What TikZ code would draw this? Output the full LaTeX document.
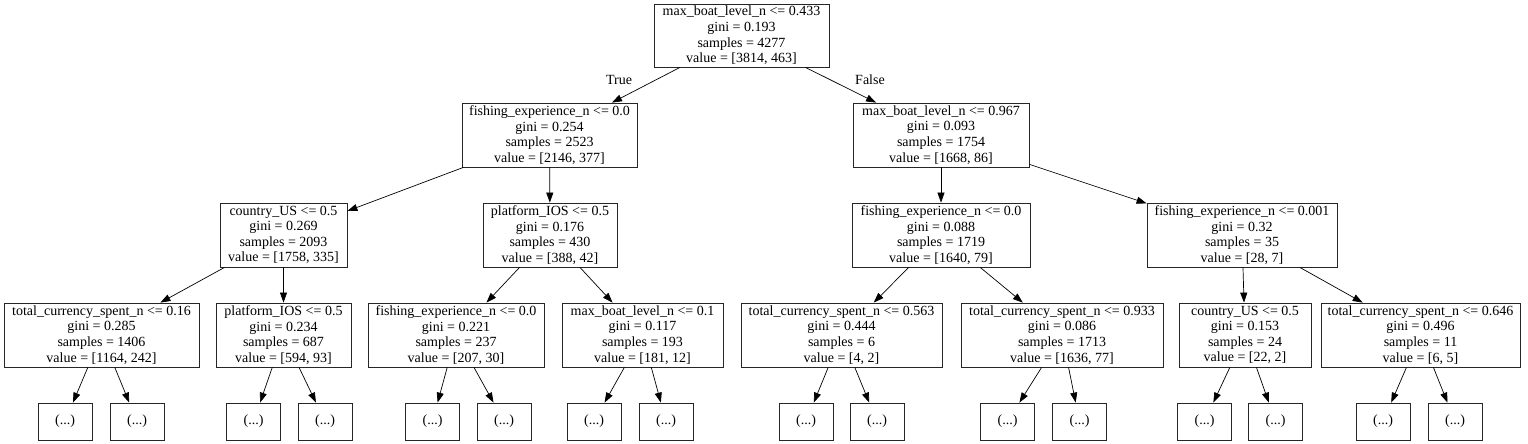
\documentclass[tikz,border=0pt]{standalone}
\usepackage{fontspec}
\setmainfont{Liberation Serif}
\usetikzlibrary{arrows.meta}
\begin{document}
\begin{tikzpicture}[x=1pt,y=-1pt,
  every node/.style={font=\fontsize{14}{15.6}\selectfont},
  split/.style={draw=black!85, line width=0.8pt, rectangle, inner sep=0pt, align=center, minimum height=64pt},
  leaf/.style={draw=black!85, line width=0.8pt, rectangle, inner sep=0pt, minimum width=54pt, minimum height=37pt},
  edge/.style={draw=black, line width=0.7pt, -{Triangle[length=10pt,width=7pt]}},
  elabel/.style={inner sep=0pt}]
\useasboundingbox (0,0) rectangle (1528,444);
% level 0
\node[split, minimum width=175pt, minimum height=63pt] (r) at (741.5,35.5) {max\_boat\_level\_n <= 0.433\\gini = 0.193\\samples = 4277\\value = [3814, 463]};
% level 1
\node[split, minimum width=175pt] (a) at (549.5,135) {fishing\_experience\_n <= 0.0\\gini = 0.254\\samples = 2523\\value = [2146, 377]};
\node[split, minimum width=176pt] (b) at (941,135) {max\_boat\_level\_n <= 0.967\\gini = 0.093\\samples = 1754\\value = [1668, 86]};
% level 2
\node[split, minimum width=127pt] (aa) at (283.5,235) {country\_US <= 0.5\\gini = 0.269\\samples = 2093\\value = [1758, 335]};
\node[split, minimum width=134pt] (ab) at (550,235) {platform\_IOS <= 0.5\\gini = 0.176\\samples = 430\\value = [388, 42]};
\node[split, minimum width=178pt] (ba) at (941,235) {fishing\_experience\_n <= 0.0\\gini = 0.088\\samples = 1719\\value = [1640, 79]};
\node[split, minimum width=190pt] (bb) at (1242,235) {fishing\_experience\_n <= 0.001\\gini = 0.32\\samples = 35\\value = [28, 7]};
% level 3
\node[split, minimum width=195pt] (aaa) at (101.5,335) {total\_currency\_spent\_n <= 0.16\\gini = 0.285\\samples = 1406\\value = [1164, 242]};
\node[split, minimum width=135pt] (aab) at (283.5,335) {platform\_IOS <= 0.5\\gini = 0.234\\samples = 687\\value = [594, 93]};
\node[split, minimum width=176pt] (aba) at (456,335) {fishing\_experience\_n <= 0.0\\gini = 0.221\\samples = 237\\value = [207, 30]};
\node[split, minimum width=161pt] (abb) at (642.5,335) {max\_boat\_level\_n <= 0.1\\gini = 0.117\\samples = 193\\value = [181, 12]};
\node[split, minimum width=201pt] (baa) at (841.5,335) {total\_currency\_spent\_n <= 0.563\\gini = 0.444\\samples = 6\\value = [4, 2]};
\node[split, minimum width=202pt] (bab) at (1062,335) {total\_currency\_spent\_n <= 0.933\\gini = 0.086\\samples = 1713\\value = [1636, 77]};
\node[split, minimum width=132pt] (bba) at (1245,335) {country\_US <= 0.5\\gini = 0.153\\samples = 24\\value = [22, 2]};
\node[split, minimum width=199pt] (bbb) at (1420.5,335) {total\_currency\_spent\_n <= 0.646\\gini = 0.496\\samples = 11\\value = [6, 5]};
% leaves
\node[leaf] (l1) at (65,421.5) {(...)};
\node[leaf] (l2) at (137,421.5) {(...)};
\node[leaf] (l3) at (253.5,421.5) {(...)};
\node[leaf] (l4) at (325,421.5) {(...)};
\node[leaf] (l5) at (432.5,421.5) {(...)};
\node[leaf] (l6) at (504,421.5) {(...)};
\node[leaf] (l7) at (594,421.5) {(...)};
\node[leaf] (l8) at (666,421.5) {(...)};
\node[leaf] (l9) at (806,421.5) {(...)};
\node[leaf] (l10) at (877,421.5) {(...)};
\node[leaf] (l11) at (1007.5,421.5) {(...)};
\node[leaf] (l12) at (1079.5,421.5) {(...)};
\node[leaf] (l13) at (1204.5,421.5) {(...)};
\node[leaf] (l14) at (1275.5,421.5) {(...)};
\node[leaf] (l15) at (1383,421.5) {(...)};
\node[leaf] (l16) at (1455,421.5) {(...)};
% edge labels
\node[elabel] (tl) at (619,80) {True};
\node[elabel] (fl) at (870,80) {False};
% edges
\draw[edge] (r) -- (a);
\draw[edge] (r) -- (b);
\draw[edge] (a) -- (aa);
\draw[edge] (a) -- (ab);
\draw[edge] (b) -- (ba);
\draw[edge] (b) -- (bb);
\draw[edge] (aa) -- (aaa);
\draw[edge] (aa) -- (aab);
\draw[edge] (ab) -- (aba);
\draw[edge] (ab) -- (abb);
\draw[edge] (ba) -- (baa);
\draw[edge] (ba) -- (bab);
\draw[edge] (bb) -- (bba);
\draw[edge] (bb) -- (bbb);
\draw[edge] (aaa) -- (l1);
\draw[edge] (aaa) -- (l2);
\draw[edge] (aab) -- (l3);
\draw[edge] (aab) -- (l4);
\draw[edge] (aba) -- (l5);
\draw[edge] (aba) -- (l6);
\draw[edge] (abb) -- (l7);
\draw[edge] (abb) -- (l8);
\draw[edge] (baa) -- (l9);
\draw[edge] (baa) -- (l10);
\draw[edge] (bab) -- (l11);
\draw[edge] (bab) -- (l12);
\draw[edge] (bba) -- (l13);
\draw[edge] (bba) -- (l14);
\draw[edge] (bbb) -- (l15);
\draw[edge] (bbb) -- (l16);
\end{tikzpicture}
\end{document}
